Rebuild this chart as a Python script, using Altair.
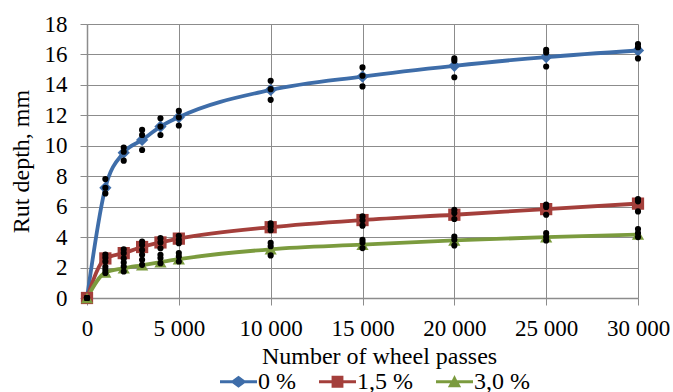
import altair as alt
import pandas as pd

# ---- data ----
passes = [0, 1000, 2000, 3000, 4000, 5000, 10000, 15000, 20000, 25000, 30000]
series_names = ["0 %", "1,5 %", "3,0 %"]
mean_0 = [0, 7.24, 9.55, 10.38, 11.26, 11.88, 13.67, 14.55, 15.25, 15.83, 16.26]
mean_15 = [0, 2.6, 2.95, 3.35, 3.65, 3.9, 4.65, 5.12, 5.47, 5.84, 6.2]
mean_30 = [0, 1.68, 1.95, 2.15, 2.35, 2.55, 3.2, 3.5, 3.78, 4.0, 4.17]

# individual measurements (three replicates per mixture)
rep_0 = [[0, 0, 0], [7.81, 7.24, 6.87], [9.88, 9.61, 9.02], [11.04, 10.71, 9.72],
         [11.81, 11.26, 10.71], [12.29, 11.87, 11.33], [14.27, 13.72, 13.02],
         [15.15, 14.6, 13.9], [15.74, 15.59, 14.5], [16.31, 16.13, 15.21],
         [16.68, 16.48, 15.74]]
rep_15 = [[0, 0, 0], [2.85, 2.65, 2.4], [3.2, 2.95, 2.6], [3.7, 3.48, 3.15],
          [3.93, 3.65, 3.27], [4.09, 3.82, 3.6], [4.9, 4.7, 4.45],
          [5.36, 5.1, 4.75], [5.8, 5.58, 5.19], [6.13, 5.98, 5.47],
          [6.5, 6.35, 5.69]]
rep_30 = [[0, 0, 0], [2.05, 1.85, 1.65], [2.33, 2.07, 1.74], [2.84, 2.51, 2.18],
          [2.84, 2.62, 2.29], [2.95, 2.73, 2.4], [3.62, 3.4, 2.8],
          [3.82, 3.65, 3.28], [4.04, 3.82, 3.45], [4.26, 4.0, 3.78],
          [4.53, 4.26, 4.0]]

colors = ["#3E6DA9", "#A43F3B", "#7B9B3E"]
shapes = ["diamond", "square", "triangle-up"]

mean_rows = []
for name, vals in zip(series_names, [mean_0, mean_15, mean_30]):
    for x, v in zip(passes, vals):
        mean_rows.append({"passes": x, "depth": v, "series": name})
df_mean = pd.DataFrame(mean_rows)

dot_rows = []
for name, reps in zip(series_names, [rep_0, rep_15, rep_30]):
    for x, vals in zip(passes, reps):
        for v in vals:
            dot_rows.append({"passes": x, "depth": v, "series": name})
df_dots = pd.DataFrame(dot_rows)

FONT = "Liberation Serif"
GRID = "#8C8C8C"

x_enc = alt.X("passes:Q",
              scale=alt.Scale(domain=[0, 30000], nice=False),
              axis=alt.Axis(values=[0, 5000, 10000, 15000, 20000, 25000, 30000],
                            labelExpr="replace(format(datum.value, ','), ',', ' ')",
                            title="Number of wheel passes",
                            grid=True, gridColor=GRID, gridWidth=1,
                            domainColor=GRID, domainWidth=1.5,
                            tickColor=GRID, tickSize=7,
                            labelFont=FONT, labelFontSize=23, labelColor="black",
                            labelPadding=12, labelFlush=False, labelOverlap=False,
                            titleFont=FONT, titleFontSize=24, titleFontWeight="normal",
                            titleColor="black", titleX=292, titleY=65,
                            titleBaseline="alphabetic", titleAlign="center"))
y_enc = alt.Y("depth:Q",
              scale=alt.Scale(domain=[0, 18], nice=False),
              axis=alt.Axis(values=list(range(0, 19, 2)),
                            title="Rut depth, mm",
                            grid=True, gridColor=GRID, gridWidth=1,
                            domainColor=GRID, domainWidth=1.5,
                            tickColor=GRID, tickSize=7,
                            labelFont=FONT, labelFontSize=23, labelColor="black",
                            labelPadding=13, labelOverlap=False,
                            titleFont=FONT, titleFontSize=24, titleFontWeight="normal",
                            titleColor="black", titleX=-59, titleY=137,
                            titleAngle=270, titleBaseline="alphabetic",
                            titleAlign="center"))

diamond_p = "M-1,-0.085L-0.33,-0.085L0,-0.33L0.33,-0.085L1,-0.085L1,0.085L0.33,0.085L0,0.33L-0.33,0.085L-1,0.085Z"
square_p = "M-1,-0.085L-0.32,-0.085L-0.32,-0.33L0.32,-0.33L0.32,-0.085L1,-0.085L1,0.085L0.32,0.085L0.32,0.33L-0.32,0.33L-0.32,0.085L-1,0.085Z"
tri_p = "M-1,-0.085L-0.14,-0.085L0,-0.36L0.14,-0.085L1,-0.085L1,0.085L0.24,0.085L0.36,0.3L-0.36,0.3L-0.24,0.085L-1,0.085Z"
shape_expr = ("datum.value === '0 %' ? '" + diamond_p + "' : datum.value === '1,5 %' ? '"
              + square_p + "' : '" + tri_p + "'")

legend = alt.Legend(orient="none", legendX=133, legendY=339, direction="horizontal",
                    title=None, symbolSize=1369, symbolStrokeWidth=0,
                    symbolType={"expr": shape_expr}, symbolOpacity=1,
                    labelFont=FONT, labelFontSize=24, labelColor="black",
                    labelOffset=1, columnPadding=23, padding=0)

# lines use the stroke channel (data-derived domain) so they do not touch the legend
lines = alt.Chart(df_mean).mark_line(interpolate="monotone", strokeWidth=3.8).encode(
    x=x_enc, y=y_enc,
    stroke=alt.Stroke("series:N", scale=alt.Scale(range=colors), legend=None))

markers = alt.Chart(df_mean).mark_point(filled=True, opacity=1, size=150).encode(
    x=x_enc, y=y_enc,
    color=alt.Color("series:N", scale=alt.Scale(domain=series_names, range=colors),
                    legend=legend),
    shape=alt.Shape("series:N", scale=alt.Scale(range=shapes), legend=None))

dots = alt.Chart(df_dots).mark_circle(color="black", opacity=1, size=38).encode(
    x=x_enc, y=y_enc)

chart = alt.layer(lines, markers, dots).properties(
    width=551, height=274,
    autosize=alt.AutoSizeParams(type="none"),
    padding={"left": 87, "top": 24, "right": 35, "bottom": 94},
    background="white"
).configure_view(stroke=None)

chart.save("out.html", embed_options={"renderer": "svg", "actions": False})
